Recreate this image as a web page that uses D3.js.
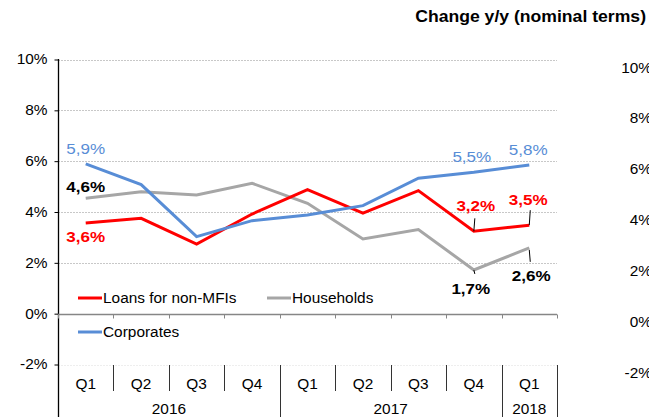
<!DOCTYPE html>
<html>
<head>
<meta charset="utf-8">
<script src="https://cdn.jsdelivr.net/npm/d3@7"></script>
<style>
  body { margin: 0; background: #fff; }
  text { font-family: "Liberation Sans", Arial, sans-serif; }
</style>
</head>
<body>
<script>
// quarters and years on the category axis
var quarters = ["Q1","Q2","Q3","Q4","Q1","Q2","Q3","Q4","Q1"];
var years = ["2016","2017","2018"];
var yearSpan = [4, 4, 1];

// series values (% y/y)
var loans = [3.57, 3.75, 2.74, 3.92, 4.88, 3.96, 4.84, 3.24, 3.48];
var households = [4.54, 4.80, 4.67, 5.13, 4.34, 2.94, 3.31, 1.72, 2.59];
var corporates = [5.89, 5.08, 3.03, 3.66, 3.88, 4.25, 5.33, 5.56, 5.85];

var yTicks = [-2, 0, 2, 4, 6, 8, 10];

var width = 649, height = 417;
var svg = d3.select("body").append("svg").attr("width", width).attr("height", height);

var x = d3.scaleBand().domain(d3.range(quarters.length)).range([58, 557]);
var y = d3.scaleLinear().domain([-2, 10]).range([364.5, 59.5]);

// title
svg.append("text").attr("x", 646).attr("y", 22).attr("text-anchor", "end")
  .attr("font-size", 16).attr("font-weight", "bold").text("Change y/y (nominal terms)");

// grid lines
svg.selectAll("line.grid").data([2,4,6,8,10]).enter().append("line")
  .attr("x1", 58).attr("x2", 557)
  .attr("y1", function(d){ return Math.round(y(d)) + 0.5; })
  .attr("y2", function(d){ return Math.round(y(d)) + 0.5; })
  .attr("stroke", "#c8c8c8").attr("stroke-width", 1).attr("stroke-dasharray", "2,1");
svg.append("line").attr("x1", 58).attr("x2", 557)
  .attr("y1", Math.round(y(-2)) + 0.5).attr("y2", Math.round(y(-2)) + 0.5)
  .attr("stroke", "#eeeeee").attr("stroke-dasharray", "2,1");

// left axis
var yAxis = d3.axisLeft(y).tickValues(yTicks).tickSize(4).tickFormat(function(d){ return d + "%"; });
var ga = svg.append("g").attr("transform", "translate(58.5,0)").call(yAxis);
ga.select(".domain").remove();
ga.selectAll(".tick line").attr("stroke", "#000");
ga.selectAll(".tick text").attr("font-size", 14).attr("fill", "#000")
  .attr("font-family", "Liberation Sans, Arial, sans-serif").attr("x", -11);
svg.append("line").attr("x1", 58.5).attr("x2", 58.5).attr("y1", 59).attr("y2", 417)
  .attr("stroke", "#000").attr("stroke-width", 1.3);

// zero line with ticks
var zy = Math.round(y(0)) + 0.5;
svg.append("line").attr("x1", 58).attr("x2", 557).attr("y1", zy).attr("y2", zy)
  .attr("stroke", "#868686").attr("stroke-width", 1.5);
svg.selectAll("line.zt").data(d3.range(quarters.length + 1)).enter().append("line")
  .attr("x1", function(i){ return Math.round(58 + i * x.step()) + 0.5; })
  .attr("x2", function(i){ return Math.round(58 + i * x.step()) + 0.5; })
  .attr("y1", zy).attr("y2", zy + 4).attr("stroke", "#868686");

// category table below the plot
var boundaries = [0];
yearSpan.reduce(function(a, b){ boundaries.push(a + b); return a + b; }, 0);
svg.selectAll("line.qs").data(d3.range(1, quarters.length + 1)).enter().append("line")
  .attr("x1", function(i){ return Math.round(58 + i * x.step()) + 0.5; })
  .attr("x2", function(i){ return Math.round(58 + i * x.step()) + 0.5; })
  .attr("y1", 365)
  .attr("y2", function(i){ return boundaries.indexOf(i) >= 0 ? 417 : 391; })
  .attr("stroke", "#333");
svg.selectAll("text.q").data(quarters).enter().append("text")
  .attr("x", function(d, i){ return x(i) + x.bandwidth() / 2; })
  .attr("y", 389).attr("text-anchor", "middle").attr("font-size", 14).text(function(d){ return d; });
svg.selectAll("text.yr").data(years).enter().append("text")
  .attr("x", function(d, i){ return 58 + (boundaries[i] + boundaries[i + 1]) / 2 * x.step(); })
  .attr("y", 414).attr("text-anchor", "middle").attr("font-size", 14).text(function(d){ return d; });

// lines
var line = d3.line().x(function(d, i){ return x(i) + x.bandwidth() / 2; }).y(function(d){ return y(d); });
var series = [
  { name: "Households", values: households, color: "#a6a6a6" },
  { name: "Loans for non-MFIs", values: loans, color: "#ff0000" },
  { name: "Corporates", values: corporates, color: "#588dd6" }
];
svg.selectAll("path.s").data(series).enter().append("path")
  .attr("d", function(s){ return line(s.values); })
  .attr("fill", "none").attr("stroke", function(s){ return s.color; })
  .attr("stroke-width", 3).attr("stroke-linejoin", "miter");

// legend
var legend = [
  { name: "Loans for non-MFIs", color: "#ff0000", lx: 78, ly: 298 },
  { name: "Households", color: "#a6a6a6", lx: 267, ly: 298 },
  { name: "Corporates", color: "#588dd6", lx: 78, ly: 332 }
];
var lg = svg.selectAll("g.lg").data(legend).enter().append("g");
lg.append("line").attr("x1", function(d){ return d.lx; }).attr("x2", function(d){ return d.lx + 24; })
  .attr("y1", function(d){ return d.ly; }).attr("y2", function(d){ return d.ly; })
  .attr("stroke", function(d){ return d.color; }).attr("stroke-width", 3);
lg.append("text").attr("x", function(d){ return d.lx + 25; }).attr("y", function(d){ return d.ly + 5; })
  .attr("font-size", 14).text(function(d){ return d.name; });

// data labels
function cx(i){ return x(i) + x.bandwidth() / 2; }
var labels = [
  { i: 0, v: corporates[0], t: "5,9%", c: "#588dd6", w: "normal", dx: 0, dy: -10 },
  { i: 7, v: corporates[7], t: "5,5%", c: "#588dd6", w: "normal", dx: -2, dy: -10 },
  { i: 8, v: corporates[8], t: "5,8%", c: "#588dd6", w: "normal", dx: -1, dy: -10 },
  { i: 0, v: households[0], t: "4,6%", c: "#000", w: "bold", dx: 0, dy: -6 },
  { i: 0, v: loans[0], t: "3,6%", c: "#ff0000", w: "bold", dx: 0, dy: 19 },
  { i: 7, v: loans[7], t: "3,2%", c: "#ff0000", w: "bold", dx: 2, dy: -20 },
  { i: 8, v: loans[8], t: "3,5%", c: "#ff0000", w: "bold", dx: -1, dy: -20 },
  { i: 7, v: households[7], t: "1,7%", c: "#000", w: "bold", dx: -3, dy: 24 },
  { i: 8, v: households[8], t: "2,6%", c: "#000", w: "bold", dx: 2, dy: 33 }
];
svg.selectAll("text.dl").data(labels).enter().append("text")
  .attr("x", function(d){ return cx(d.i) + d.dx; })
  .attr("y", function(d){ return y(d.v) + d.dy; })
  .attr("text-anchor", "middle").attr("font-size", 15.5)
  .attr("font-weight", function(d){ return d.w; })
  .attr("fill", function(d){ return d.c; }).text(function(d){ return d.t; });

// leader lines
var leaders = [
  { i: 7, v: loans[7], d0: 0, d1: -13 },
  { i: 8, v: loans[8], d0: 0, d1: -15 },
  { i: 7, v: households[7], d0: 0, d1: 4 },
  { i: 8, v: households[8], d0: 2, d1: 14 }
];
svg.selectAll("line.ld").data(leaders).enter().append("line")
  .attr("x1", function(d){ return cx(d.i); }).attr("x2", function(d){ return cx(d.i) + (d.d1 > 0 ? 1 : 1); })
  .attr("y1", function(d){ return y(d.v) + d.d0; }).attr("y2", function(d){ return y(d.v) + d.d1; })
  .attr("stroke", "#000").attr("stroke-width", 1);

// neighbouring chart's axis, cut off at the edge
svg.selectAll("text.ra").data(yTicks).enter().append("text")
  .attr("x", 652).attr("y", function(d){ return y(d) + 13; })
  .attr("font-size", 14).attr("text-anchor", "end")
  .text(function(d){ return d + "%"; });

// the source text is drawn slightly wide
svg.selectAll("text").each(function(){
  var w = this.getComputedTextLength();
  this.setAttribute("textLength", w * 1.1);
  this.setAttribute("lengthAdjust", "spacingAndGlyphs");
});
</script>
</body>
</html>
